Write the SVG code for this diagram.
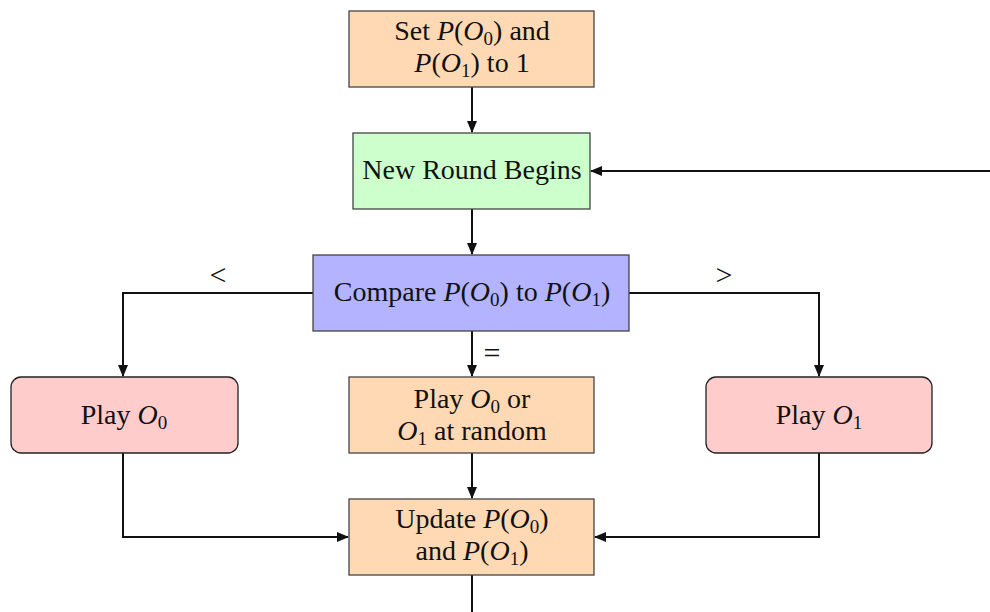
<svg xmlns="http://www.w3.org/2000/svg" width="990" height="612" viewBox="0 0 990 612">
  <style>
    .box { stroke: #444; stroke-width: 1.3; }
    .rnd { stroke: #222; stroke-width: 1.3; }
    .orange { fill: #FFD9B3; }
    .green { fill: #CCFFCC; }
    .blue { fill: #B3B3FF; }
    .red { fill: #FFCCCC; }
    text { font-family: "Liberation Serif", "Times New Roman", serif; font-size: 28px; fill: #111; text-anchor: middle; }
    .m { font-style: italic; }
    .s { font-size: 19px; }
    .lbl { font-size: 30px; }
    .wire { fill: none; stroke: #111; stroke-width: 2; }
  </style>
  <defs>
    <marker id="arr" markerUnits="userSpaceOnUse" markerWidth="12" markerHeight="10" refX="11" refY="5" orient="auto">
      <path d="M0,0 L12,5 L0,10 z" fill="#111"/>
    </marker>
  </defs>

  <g id="connectors">
    <path class="wire" d="M472,87 V132" marker-end="url(#arr)"/>
    <path class="wire" d="M472,209 V254" marker-end="url(#arr)"/>
    <path class="wire" d="M313,293 H123 V376" marker-end="url(#arr)"/>
    <path class="wire" d="M629,293 H819 V376" marker-end="url(#arr)"/>
    <path class="wire" d="M472,331 V376" marker-end="url(#arr)"/>
    <path class="wire" d="M472,453 V498" marker-end="url(#arr)"/>
    <path class="wire" d="M123,453 V537 H348" marker-end="url(#arr)"/>
    <path class="wire" d="M819,453 V537 H595" marker-end="url(#arr)"/>
    <path class="wire" d="M472,575 V612"/>
    <path class="wire" d="M990,171 H591" marker-end="url(#arr)"/>
    <text class="lbl" x="218" y="285">&lt;</text>
    <text class="lbl" x="724" y="285">&gt;</text>
    <text class="lbl" x="492" y="363">=</text>
  </g>

  <g id="init">
    <rect class="box orange" x="349" y="11" width="245" height="76"/>
    <text x="472" y="40">Set <tspan class="m">P</tspan>(<tspan class="m">O</tspan><tspan class="s" dy="5">0</tspan><tspan dy="-5">) and</tspan></text>
    <text x="472" y="72"><tspan class="m">P</tspan>(<tspan class="m">O</tspan><tspan class="s" dy="5">1</tspan><tspan dy="-5">) to 1</tspan></text>
  </g>

  <g id="new-round">
    <rect class="box green" x="353" y="133" width="237" height="76"/>
    <text x="472" y="179">New Round Begins</text>
  </g>

  <g id="compare">
    <rect class="box blue" x="313" y="255" width="316" height="76"/>
    <text x="472" y="301">Compare <tspan class="m">P</tspan>(<tspan class="m">O</tspan><tspan class="s" dy="5">0</tspan><tspan dy="-5">) to </tspan><tspan class="m">P</tspan>(<tspan class="m">O</tspan><tspan class="s" dy="5">1</tspan><tspan dy="-5">)</tspan></text>
  </g>

  <g id="play-o0">
    <rect class="rnd red" x="11" y="377" width="227" height="76" rx="10"/>
    <text x="124" y="424">Play <tspan class="m">O</tspan><tspan class="s" dy="5">0</tspan></text>
  </g>

  <g id="play-random">
    <rect class="box orange" x="349" y="377" width="245" height="76"/>
    <text x="472" y="408">Play <tspan class="m">O</tspan><tspan class="s" dy="5">0</tspan><tspan dy="-5"> or</tspan></text>
    <text x="472" y="440"><tspan class="m">O</tspan><tspan class="s" dy="5">1</tspan><tspan dy="-5"> at random</tspan></text>
  </g>

  <g id="play-o1">
    <rect class="rnd red" x="706" y="377" width="226" height="76" rx="10"/>
    <text x="819" y="424">Play <tspan class="m">O</tspan><tspan class="s" dy="5">1</tspan></text>
  </g>

  <g id="update">
    <rect class="box orange" x="349" y="499" width="245" height="76"/>
    <text x="472" y="528">Update <tspan class="m">P</tspan>(<tspan class="m">O</tspan><tspan class="s" dy="5">0</tspan><tspan dy="-5">)</tspan></text>
    <text x="472" y="560">and <tspan class="m">P</tspan>(<tspan class="m">O</tspan><tspan class="s" dy="5">1</tspan><tspan dy="-5">)</tspan></text>
  </g>
</svg>
